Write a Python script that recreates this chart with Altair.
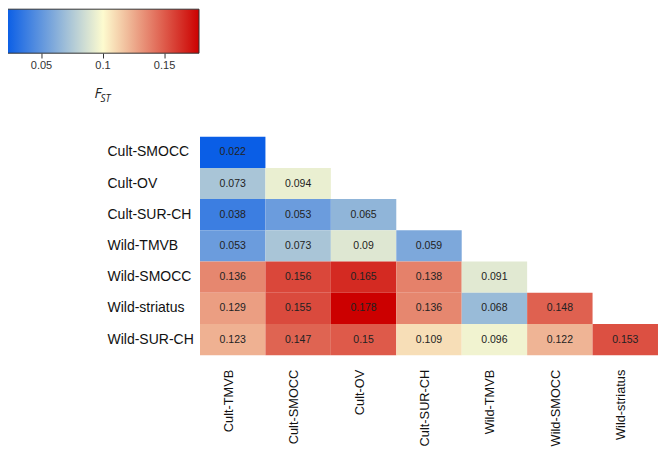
import altair as alt
import pandas as pd

pops = ["Cult-TMVB", "Cult-SMOCC", "Cult-OV", "Cult-SUR-CH",
        "Wild-TMVB", "Wild-SMOCC", "Wild-striatus", "Wild-SUR-CH"]
col_pops = pops[:-1]
row_pops = pops[1:]

fst_rows = [
    ["0.022"],
    ["0.073", "0.094"],
    ["0.038", "0.053", "0.065"],
    ["0.053", "0.073", "0.09", "0.059"],
    ["0.136", "0.156", "0.165", "0.138", "0.091"],
    ["0.129", "0.155", "0.178", "0.136", "0.068", "0.148"],
    ["0.123", "0.147", "0.15", "0.109", "0.096", "0.122", "0.153"],
]
legend_ticks = [0.05, 0.1, 0.15]
fst_domain = [0.022, 0.1, 0.178]

recs = []
for r, vals in zip(row_pops, fst_rows):
    for c, v in zip(col_pops, vals):
        recs.append({"row": r, "col": c, "fst": float(v), "label": v})
df = pd.DataFrame(recs)

FONT = "Liberation Sans"

x_enc = alt.X("col:N", sort=col_pops, title=None,
              axis=alt.Axis(labelAngle=270, labelFontSize=12.8, labelColor="#111",
                            labelFont=FONT, ticks=False, tickSize=0, domain=False,
                            grid=False, labelPadding=14, labelOffset=-4))
y_enc = alt.Y("row:N", sort=row_pops, title=None,
              axis=alt.Axis(labelAlign="left", labelFontSize=14, labelColor="#111",
                            labelFont=FONT, ticks=False, tickSize=0, domain=False,
                            grid=False, labelPadding=93))

color_enc = alt.Color(
    "fst:Q",
    scale=alt.Scale(domain=fst_domain,
                    range=["#0a5ee6", "#fdfbcf", "#cc0000"],
                    interpolate="rgb"),
    legend=alt.Legend(orient="none", legendX=-193, legendY=-127.5,
                      direction="horizontal", gradientLength=192,
                      gradientThickness=44, gradientStrokeColor="#333",
                      gradientStrokeWidth=1, values=legend_ticks,
                      format=".2~f", labelFontSize=11, labelColor="#333",
                      labelFont=FONT, labelOffset=7, title=None),
)

base = alt.Chart(df)
rects = base.mark_rect().encode(x=x_enc, y=y_enc, color=color_enc)
texts = base.mark_text(fontSize=10.5, color="#222", font=FONT).encode(
    x=x_enc, y=y_enc, text="label:N")

heat = alt.layer(rects, texts)

# small tick marks under the colour bar
ticks = alt.Chart(pd.DataFrame({"v": legend_ticks})).mark_rule(
    color="#333", strokeWidth=1).encode(
    x=alt.X("v:Q", axis=None,
            scale=alt.Scale(domain=[fst_domain[0], fst_domain[-1]],
                            range=[-192.5, -0.5], nice=False, zero=False)),
    y=alt.value(-83.2), y2=alt.value(-78.2))

title_f = alt.Chart(pd.DataFrame({"t": ["F"]})).mark_text(
    fontSize=14.5, fontStyle="italic", font="Open Sans", align="right",
    baseline="alphabetic", color="#222").encode(
    x=alt.value(-98.5), y=alt.value(-38.4), text="t:N")
title_st = alt.Chart(pd.DataFrame({"t": ["ST"]})).mark_text(
    fontSize=10, fontStyle="italic", font="Open Sans", align="left",
    baseline="alphabetic", color="#222").encode(
    x=alt.value(-99.5), y=alt.value(-34.7), text="t:N")

chart = alt.layer(heat, ticks, title_f, title_st).resolve_scale(
    x="independent"
).properties(
    width=458, height=218.5,
    background="white",
    autosize=alt.AutoSizeParams(type="none"),
    padding={"left": 192, "top": 128.7, "right": 0, "bottom": 92},
).configure_view(stroke=None).configure_axis(grid=False)

chart.save("out.html", embed_options={"renderer": "svg", "actions": False})
